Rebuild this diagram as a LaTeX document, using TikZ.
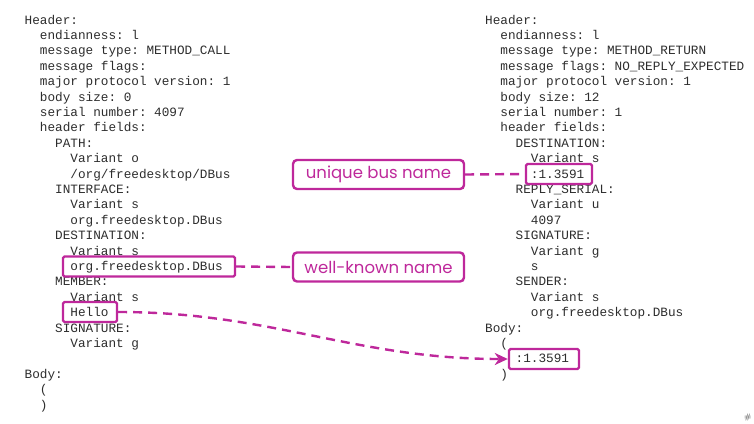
\documentclass[tikz,border=0pt]{standalone}
\usepackage{fontspec}
\setmonofont{Liberation Mono}
\newfontfamily\labelfont{Poppins}
\usetikzlibrary{arrows.meta}
\definecolor{mag}{RGB}{190,40,155}
\definecolor{txt}{RGB}{45,45,45}
\newcommand\codeln[5]{\node[code] (#1) at ({#2+7.62*#3},{24+15.4*#4}) {#5};}
\begin{document}
\begin{tikzpicture}[x=1pt,y=-1pt,
  code/.style={font=\ttfamily\fontsize{12.7}{15.4}\selectfont, text=txt, anchor=base west, inner sep=0pt},
  hbox/.style={draw=mag, line width=2.4pt, rounded corners=1.5pt, inner sep=0pt, minimum height=20pt},
  lbl/.style={draw=mag, line width=2.4pt, rounded corners=4pt, inner sep=0pt, minimum width=171pt, minimum height=29pt, text=mag, font=\labelfont\fontsize{16.5}{19}\selectfont},
  dline/.style={draw=mag, line width=2.4pt, dash pattern=on 9pt off 6pt}
]
\useasboundingbox (0,0) rectangle (754,423);
% left column
\codeln{L0}{24.5}{0}{0}{Header:}
\codeln{L1}{24.5}{2}{1}{endianness: l}
\codeln{L2}{24.5}{2}{2}{message type: METHOD\_CALL}
\codeln{L3}{24.5}{2}{3}{message flags:}
\codeln{L4}{24.5}{2}{4}{major protocol version: 1}
\codeln{L5}{24.5}{2}{5}{body size: 0}
\codeln{L6}{24.5}{2}{6}{serial number: 4097}
\codeln{L7}{24.5}{2}{7}{header fields:}
\codeln{L8}{24.5}{4}{8}{PATH:}
\codeln{L9}{24.5}{6}{9}{Variant o}
\codeln{L10}{24.5}{6}{10}{/org/freedesktop/DBus}
\codeln{L11}{24.5}{4}{11}{INTERFACE:}
\codeln{L12}{24.5}{6}{12}{Variant s}
\codeln{L13}{24.5}{6}{13}{org.freedesktop.DBus}
\codeln{L14}{24.5}{4}{14}{DESTINATION:}
\codeln{L15}{24.5}{6}{15}{Variant s}
\codeln{L16}{24.5}{6}{16}{org.freedesktop.DBus}
\codeln{L17}{24.5}{4}{17}{MEMBER:}
\codeln{L18}{24.5}{6}{18}{Variant s}
\codeln{L19}{24.5}{6}{19}{Hello}
\codeln{L20}{24.5}{4}{20}{SIGNATURE:}
\codeln{L21}{24.5}{6}{21}{Variant g}
\codeln{L23}{24.5}{0}{23}{Body:}
\codeln{L24}{24.5}{2}{24}{(}
\codeln{L25}{24.5}{2}{25}{)}
% right column
\codeln{R0}{485}{0}{0}{Header:}
\codeln{R1}{485}{2}{1}{endianness: l}
\codeln{R2}{485}{2}{2}{message type: METHOD\_RETURN}
\codeln{R3}{485}{2}{3}{message flags: NO\_REPLY\_EXPECTED}
\codeln{R4}{485}{2}{4}{major protocol version: 1}
\codeln{R5}{485}{2}{5}{body size: 12}
\codeln{R6}{485}{2}{6}{serial number: 1}
\codeln{R7}{485}{2}{7}{header fields:}
\codeln{R8}{485}{4}{8}{DESTINATION:}
\codeln{R9}{485}{6}{9}{Variant s}
\codeln{R10}{485}{6}{10}{:1.3591}
\codeln{R11}{485}{4}{11}{REPLY\_SERIAL:}
\codeln{R12}{485}{6}{12}{Variant u}
\codeln{R13}{485}{6}{13}{4097}
\codeln{R14}{485}{4}{14}{SIGNATURE:}
\codeln{R15}{485}{6}{15}{Variant g}
\codeln{R16}{485}{6}{16}{s}
\codeln{R17}{485}{4}{17}{SENDER:}
\codeln{R18}{485}{6}{18}{Variant s}
\codeln{R19}{485}{6}{19}{org.freedesktop.DBus}
\codeln{R20}{485}{0}{20}{Body:}
\codeln{R21}{485}{2}{21}{(}
\codeln{R22}{485}{4}{22}{:1.3591}
\codeln{R23}{485}{2}{23}{)}
% highlight boxes
\node[hbox, minimum width=172pt] (boxWK) at (149,266.5) {};
\node[hbox, minimum width=54pt] (boxHello) at (90,312) {};
\node[hbox, minimum width=66pt] (boxU) at (559,174) {};
\node[hbox, minimum width=70pt] (boxB) at (544,359) {};
% labels
\node[lbl] (lbU) at (378.5,174.5) {unique bus name};
\node[lbl] (lbW) at (378.5,267) {well-known name};
% connectors
\draw[dline] (lbU.east) -- (boxU.west);
\draw[dline] (boxWK.east) -- (lbW.west);
\draw[dline, -{Stealth[length=13pt,width=12pt,inset=4pt]}] (boxHello.east) to[out=0,in=180] (boxB.west);
% corner mark
\node[font=\sffamily\bfseries\fontsize{8}{9}\selectfont, text=gray, anchor=base west, inner sep=0pt] (hash) at (744,419) {\#};
\end{tikzpicture}
\end{document}
